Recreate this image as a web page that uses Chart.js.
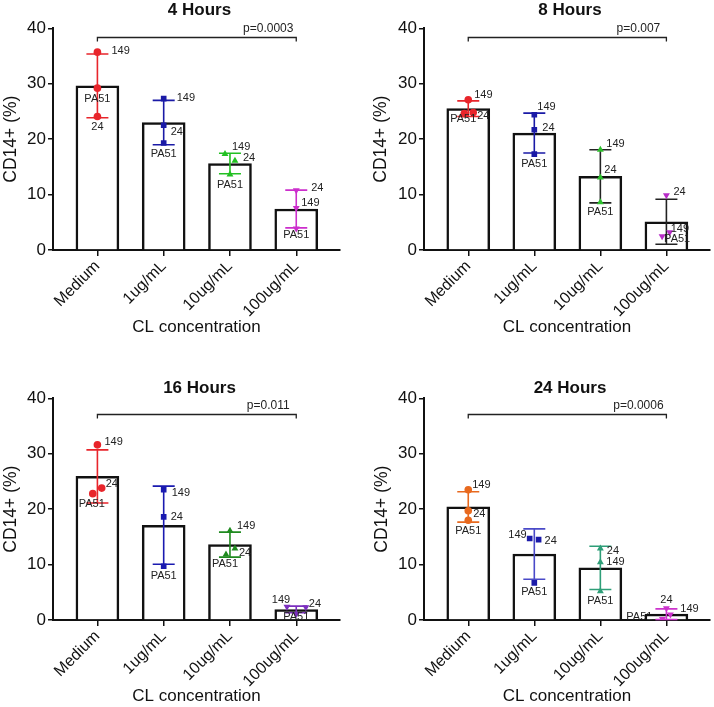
<!DOCTYPE html>
<html>
<head>
<meta charset="utf-8">
<script src="https://cdn.jsdelivr.net/npm/chart.js@4.4.1/dist/chart.umd.min.js"></script>
<style>
html,body{margin:0;padding:0;background:#fff;}
#wrap{position:relative;width:714px;height:707px;overflow:hidden;}
.pan{position:absolute;}
</style>
</head>
<body>
<div id="wrap"></div>
<script>
// ---------- DATA ----------
const categories = ['Medium', '1ug/mL', '10ug/mL', '100ug/mL'];
const donors = ['149', '24', 'PA51'];
const panelTitles = ['4 Hours', '8 Hours', '16 Hours', '24 Hours'];
const pValues = ['p=0.0003', 'p=0.007', 'p=0.011', 'p=0.0006'];
const yTicks = [0, 10, 20, 30, 40];

// 4 Hours
const h4_149  = [35.7, 27.3, 17.3, 7.6];
const h4_24   = [24.1, 22.5, 16.1, 10.8];
const h4_PA51 = [29.2, 19.3, 13.6, 3.9];
const h4_mean = [29.6, 23.0, 15.6, 7.4];
const h4_sd   = [5.75, 4.0, 1.85, 3.4];
// 8 Hours
const h8_149  = [27.1, 24.4, 18.1, 3.2];
const h8_24   = [24.8, 21.7, 13.1, 9.9];
const h8_PA51 = [24.6, 17.3, 8.6, 2.5];
const h8_mean = [25.5, 21.1, 13.3, 5.1];
const h8_sd   = [1.4, 3.6, 4.8, 4.05];
// 16 Hours
const h16_149  = [31.6, 23.5, 16.1, 2.4];
const h16_24   = [23.8, 18.6, 12.9, 2.3];
const h16_PA51 = [22.8, 9.7, 11.8, 1.1];
const h16_mean = [25.9, 17.1, 13.6, 1.9];
const h16_sd   = [4.8, 7.05, 2.25, 0.6];
// 24 Hours
const h24_149  = [23.5, 14.7, 10.4, 1.0];
const h24_24   = [19.7, 14.5, 12.9, 2.1];
const h24_PA51 = [18.0, 6.7, 5.2, 0.2];
const h24_mean = [20.4, 11.9, 9.4, 1.05];
const h24_sd   = [2.75, 4.55, 3.9, 0.95];

// ---------- STYLE / LAYOUT ----------
const shapes = ['circle', 'rect', 'triangle', 'triangle'];
const rotations = [0, 0, 0, 180];
const panelStyle = [
  {marker: ['#E8252B', '#1A1AA6', '#22C022', '#CC2ECC'], err: ['#E8252B', '#1A1AA6', '#22C022', '#CC2ECC']},
  {marker: ['#E8252B', '#1A1AA6', '#2CC02C', '#B82CC8'], err: ['#E8252B', '#1A1AA6', '#222222', '#222222']},
  {marker: ['#E8252B', '#1A1AB0', '#1F8A1F', '#7B2FBE'], err: ['#E8252B', '#1A1AB0', '#1F8A1F', '#7B2FBE']},
  {marker: ['#E8691E', '#1A1AA8', '#2E9E78', '#CC33CC'], err: ['#E8691E', '#4A4AC8', '#2E9E78', '#CC33CC']}
];
const panelBox = [
  {left: 0,   top: 0,   W: 357, H: 350, L: 53, R: 340, T: 28.3, B: 250, titleY: 10, yPad: 1,  xPad: 12.8, bracket: 38.4},
  {left: 357, top: 0,   W: 357, H: 350, L: 67, R: 353, T: 28.3, B: 250, titleY: 10, yPad: 14, xPad: 12.8, bracket: 38.4},
  {left: 0,   top: 350, W: 357, H: 357, L: 53, R: 340, T: 48.3, B: 270, titleY: 38, yPad: 1,  xPad: 0,    bracket: 37.2},
  {left: 357, top: 350, W: 357, H: 357, L: 67, R: 353, T: 48.3, B: 270, titleY: 38, yPad: 15, xPad: 0,    bracket: 37.2}
];
// horizontal jitter of points (category units), per category: [149, 24, PA51]
const jitters = [
  [[0,0,0],[0,0,0],[-0.075,0.075,0],[0,0,0]],
  [[0,0.075,-0.06],[0,0,0],[0,0,0],[0.05,0,-0.065]],
  [[0,0.065,-0.07],[0,0,0],[0,0.075,-0.06],[-0.14,0.145,0]],
  [[0,0,0],[-0.07,0.065,0],[0,0,0],[0.06,0,-0.06]]
];
// label offsets in px per category: [149, 24, PA51] each [dx, dy, align, drawnUnderBars]
const labelPos = [
  [ [[14,-1,'left'],[0,11,'center'],[0,11,'center']],
    [[13,-1,'left'],[7,7,'left'],[0,11,'center']],
    [[7,-7,'left'],[8,-3,'left'],[0,10,'center']],
    [[5,-5,'left'],[15,-2,'left'],[0,7,'center']] ],
  [ [[6,-5,'left'],[4,3,'left'],[-1,5,'center']],
    [[3,-8,'left'],[8,-2,'left'],[0,10,'center']],
    [[6,-5.5,'left'],[4,-7,'left'],[0,9.5,'center']],
    [[1,-3,'left'],[7,-3,'left'],[2,3,'left']] ],
  [ [[7,-3,'left'],[4,-4,'left'],[-1,10,'center']],
    [[8,3,'left'],[7,0,'left'],[0,10,'center']],
    [[7,-5,'left'],[4,4,'left'],[-1,9.5,'center']],
    [[-6,-7,'center'],[3,-3.5,'left'],[0,3,'center']] ],
  [ [[4,-4.5,'left'],[5,3.5,'left'],[0,10.5,'center']],
    [[-3,-4,'right'],[6,1.5,'left'],[0,9.5,'center']],
    [[6,-0.5,'left'],[6.5,2.5,'left'],[0,9.5,'center']],
    [[10,-5,'left'],[0,-8,'center'],[-10,-2,'right',true]] ]
];

const panelData = [
  {v: [h4_149, h4_24, h4_PA51], mean: h4_mean, sd: h4_sd},
  {v: [h8_149, h8_24, h8_PA51], mean: h8_mean, sd: h8_sd},
  {v: [h16_149, h16_24, h16_PA51], mean: h16_mean, sd: h16_sd},
  {v: [h24_149, h24_24, h24_PA51], mean: h24_mean, sd: h24_sd}
];

const FONT = "'Liberation Sans', Arial, Helvetica, sans-serif";
Chart.defaults.font.family = FONT;
Chart.defaults.color = '#111';

function drawLabels(chart, k, under) {
  const d = panelData[k], x = chart.scales.x, y = chart.scales.y, ctx = chart.ctx;
  ctx.save();
  ctx.font = '11px ' + FONT;
  ctx.fillStyle = '#222';
  ctx.textBaseline = 'middle';
  categories.forEach((c, i) => {
    donors.forEach((dn, j) => {
      const lp = labelPos[k][i][j];
      if (!!lp[3] !== under) return;
      const px = x.getPixelForValue(i + jitters[k][i][j]) + lp[0];
      const py = y.getPixelForValue(d.v[j][i]) + lp[1];
      ctx.textAlign = lp[2];
      ctx.fillText(dn, px, py);
    });
  });
  ctx.restore();
}

const annot = {
  id: 'annot',
  beforeDatasetsDraw(chart, args, opts) {
    drawLabels(chart, opts.k, true);
  },
  afterDatasetDraw(chart, args, opts) {
    if (args.index !== 0) return;
    const k = opts.k, d = panelData[k], st = panelStyle[k];
    const x = chart.scales.x, y = chart.scales.y, ctx = chart.ctx;
    ctx.save();
    ctx.lineWidth = 1.6;
    d.mean.forEach((m, i) => {
      const cx = x.getPixelForValue(i);
      const top = y.getPixelForValue(m + d.sd[i]);
      const bot = y.getPixelForValue(m - d.sd[i]);
      ctx.strokeStyle = st.err[i];
      ctx.beginPath();
      ctx.moveTo(cx, top); ctx.lineTo(cx, bot);
      ctx.moveTo(cx - 11, top); ctx.lineTo(cx + 11, top);
      ctx.moveTo(cx - 11, bot); ctx.lineTo(cx + 11, bot);
      ctx.stroke();
    });
    ctx.restore();
  },
  afterDraw(chart, args, opts) {
    const k = opts.k, box = panelBox[k];
    const x = chart.scales.x, y = chart.scales.y, ctx = chart.ctx, ca = chart.chartArea;
    drawLabels(chart, k, false);
    ctx.save();
    // bracket
    const x0 = x.getPixelForValue(0), x3 = x.getPixelForValue(3);
    const yb = Math.round(y.getPixelForValue(box.bracket)) + 0.5;
    ctx.strokeStyle = '#222';
    ctx.lineWidth = 1.3;
    ctx.beginPath();
    ctx.moveTo(x0, yb + 4); ctx.lineTo(x0, yb); ctx.lineTo(x3, yb); ctx.lineTo(x3, yb + 4);
    ctx.stroke();
    ctx.font = '12px ' + FONT;
    ctx.fillStyle = '#222';
    ctx.textAlign = 'center';
    ctx.textBaseline = 'middle';
    ctx.fillText(pValues[k], x3 - 28, yb - 9);
    // title
    ctx.font = 'bold 17px ' + FONT;
    ctx.fillStyle = '#111';
    ctx.fillText(panelTitles[k], (ca.left + ca.right) / 2 + 3, box.titleY);
    ctx.restore();
  }
};

function makePanel(k) {
  const box = panelBox[k], d = panelData[k], st = panelStyle[k];
  const div = document.createElement('div');
  div.className = 'pan';
  div.style.left = box.left + 'px'; div.style.top = box.top + 'px';
  div.style.width = box.W + 'px'; div.style.height = box.H + 'px';
  const cv = document.createElement('canvas');
  cv.width = box.W; cv.height = box.H;
  cv.style.width = box.W + 'px'; cv.style.height = box.H + 'px';
  div.appendChild(cv);
  document.getElementById('wrap').appendChild(div);

  const datasets = [{
    type: 'bar',
    data: d.mean.map((m, i) => ({x: i, y: m})),
    backgroundColor: '#ffffff',
    borderColor: '#111',
    borderWidth: 2.5,
    barThickness: 43,
    order: 1
  }];
  categories.forEach((c, i) => {
    datasets.push({
      type: 'scatter',
      data: donors.map((dn, j) => ({x: i + jitters[k][i][j], y: d.v[j][i]})),
      pointStyle: shapes[i],
      rotation: rotations[i],
      pointRadius: i === 0 ? 3.8 : 4,
      backgroundColor: st.marker[i],
      borderColor: st.marker[i],
      borderWidth: 0,
      showLine: false,
      order: 0
    });
  });

  new Chart(cv, {
    type: 'bar',
    data: {datasets},
    plugins: [annot],
    options: {
      responsive: false,
      devicePixelRatio: 1,
      animation: false,
      events: [],
      layout: {padding: {left: 0, top: box.T, right: box.W - box.R, bottom: 0}},
      plugins: {legend: {display: false}, tooltip: {enabled: false}, title: {display: false}, annot: {k: k}},
      scales: {
        x: {
          type: 'linear',
          min: -0.67, max: 3.66,
          offset: false,
          z: 1,
          afterFit: s => { s.height = box.H - box.B; },
          afterBuildTicks: s => { s.ticks = categories.map((c, i) => ({value: i})); },
          grid: {display: true, drawOnChartArea: false, drawTicks: true, tickLength: 6, color: '#111', lineWidth: 1.5, offset: false},
          border: {display: true, color: '#111', width: 2},
          ticks: {
            autoSkip: false, minRotation: 45, maxRotation: 45, padding: 1,
            font: {size: 16}, color: '#111',
            callback: v => categories[v] !== undefined ? categories[v] : ''
          },
          title: {display: true, text: 'CL concentration', font: {size: 17}, color: '#111', padding: {top: 0, bottom: box.xPad}}
        },
        y: {
          type: 'linear',
          min: 0, max: 40,
          z: 1,
          afterFit: s => { s.width = box.L; },
          afterBuildTicks: s => { s.ticks = yTicks.map(v => ({value: v})); },
          grid: {display: true, drawOnChartArea: false, drawTicks: true, tickLength: 5, color: '#111', lineWidth: 1.5},
          border: {display: true, color: '#111', width: 2},
          ticks: {font: {size: 17}, color: '#111', padding: 2},
          title: {display: true, text: 'CD14+ (%)', font: {size: 17.5}, color: '#111', padding: {top: box.yPad, bottom: 0}}
        }
      }
    }
  });
}

[0, 1, 2, 3].forEach(makePanel);
</script>
</body>
</html>
